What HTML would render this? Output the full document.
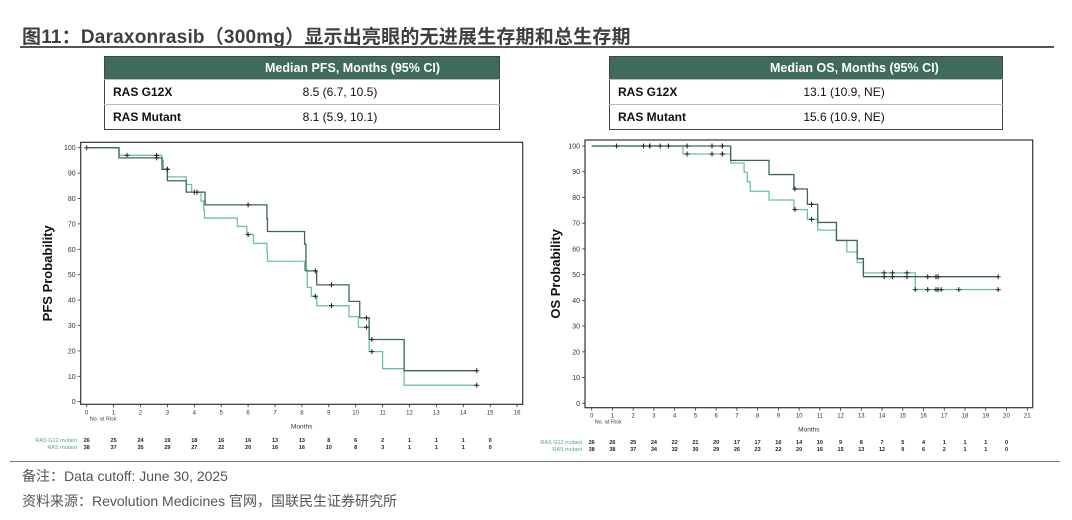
<!DOCTYPE html>
<html><head><meta charset="utf-8">
<style>
body{margin:0;background:#fff;width:1072px;height:520px;overflow:hidden;position:relative;font-family:"Liberation Sans","Noto Sans CJK SC",sans-serif}
.title{position:absolute;left:22px;top:22px;font-size:19px;font-weight:bold;color:#3f3f3f;letter-spacing:0.2px;white-space:nowrap}
.uline{position:absolute;left:20px;top:46px;width:1034px;height:2px;background:#555}
table.mt{position:absolute;border-collapse:collapse;border:1px solid #444;font-size:12px;color:#111}
table.mt th{background:#3f6b5a;color:#fff;font-weight:bold;height:22px;padding:0;font-size:12.5px}
table.mt td{height:24px;padding:0 0 0 8px;border-top:1px solid #bbb}
table.mt td.l{font-weight:bold;width:140px}
table.mt td.v{text-align:center;padding-right:80px}
.note{position:absolute;left:22px;font-size:14px;color:#555;white-space:nowrap}
.fline{position:absolute;left:10px;top:461px;width:1050px;height:1px;background:#777}
svg{position:absolute;left:0;top:0}
</style></head><body>
<div class="title">图11：Daraxonrasib（300mg）显示出亮眼的无进展生存期和总生存期</div>
<div class="uline"></div>
<table class="mt" style="left:104px;top:56px;width:396px">
<tr><th></th><th style="text-align:left;padding-left:12px">Median PFS, Months (95% CI)</th></tr>
<tr><td class="l">RAS G12X</td><td class="v">8.5 (6.7, 10.5)</td></tr>
<tr><td class="l">RAS Mutant</td><td class="v">8.1 (5.9, 10.1)</td></tr>
</table>
<table class="mt" style="left:609px;top:56px;width:394px">
<tr><th></th><th style="text-align:left;padding-left:12px">Median OS, Months (95% CI)</th></tr>
<tr><td class="l">RAS G12X</td><td class="v">13.1 (10.9, NE)</td></tr>
<tr><td class="l">RAS Mutant</td><td class="v">15.6 (10.9, NE)</td></tr>
</table>
<svg id="c" width="1072" height="520"></svg>
<div class="fline"></div>
<div class="note" style="top:466px">备注：Data cutoff: June 30, 2025</div>
<div class="note" style="top:491px">资料来源：Revolution Medicines 官网，国联民生证券研究所</div>
<script>
// PFS data
const pfsG12Times=[0,1.2,2.8,3.0,3.7,4.4,6.7,6.72,8.1,8.15,8.55,9.75,10.15,10.5,11.8,14.5];
const pfsG12Vals=[100,96,91.5,87,82.5,77.5,72,67,62,51.5,46,39.5,33,24.5,12.2,12.2];
const pfsG12CensT=[2.6,3.0,4.1,6.0,8.5,9.1,10.4,10.6,14.5];
const pfsG12CensV=[96,91.5,82.5,77.5,51.5,46,33,24.5,12.2];
const pfsMutTimes=[0,1.2,2.8,2.85,3.0,3.7,3.9,4.25,4.35,4.38,5.6,5.95,6.2,6.7,6.72,8.1,8.2,8.35,8.55,9.75,10.1,10.5,11.0,11.8,14.5];
const pfsMutVals=[100,97,95,91.5,88.5,85.5,82.5,79,75.5,72.3,69,65.8,62.3,59,55.3,51.8,45,41.5,37.8,33.5,29.3,19.7,13,6.5,6.5];
const pfsMutCensT=[0,1.5,2.6,3.0,4.0,6.0,8.5,9.1,10.4,10.6,14.5];
const pfsMutCensV=[100,97,97,91.5,82.5,65.8,41.5,37.8,29.3,19.7,6.5];
const pfsRiskG12=[26,25,24,19,18,16,16,13,13,8,6,2,1,1,1,0];
const pfsRiskMut=[38,37,35,29,27,22,20,16,16,10,8,3,1,1,1,0];
// OS data
const osG12Times=[0,6.7,8.55,9.75,10.4,10.9,11.8,12.8,13.1,19.6];
const osG12Vals=[100,94.4,88.9,83.3,77.3,70.3,63.3,56.2,49.2,49.2];
const osG12CensT=[1.2,2.5,2.8,2.8,3.3,3.7,4.6,5.8,6.3,6.3,9.8,10.6,14.1,14.5,15.2,16.2,16.6,16.7,19.6];
const osG12CensV=[100,100,100,100,100,100,100,100,100,100,83.3,77.3,49.2,49.2,49.2,49.2,49.2,49.2,49.2];
const osMutTimes=[0,4.4,6.7,7.35,7.5,7.65,8.55,9.75,10.4,10.9,11.8,12.3,12.8,13.1,15.6,19.6];
const osMutVals=[100,96.9,93.4,89.8,86.1,82.4,79,75.3,71.5,67.3,63.3,58.8,54.7,50.7,44.2,44.2];
const osMutCensT=[4.6,5.8,6.3,6.3,9.8,10.6,14.1,14.5,15.2,15.6,16.2,16.6,16.7,16.85,17.7,19.6];
const osMutCensV=[96.9,96.9,96.9,96.9,75.3,71.5,50.7,50.7,50.7,44.2,44.2,44.2,44.2,44.2,44.2,44.2];
const osRiskG12=[26,26,25,24,22,21,20,17,17,16,14,10,9,8,7,5,4,1,1,1,0];
const osRiskMut=[38,38,37,34,32,30,29,26,23,22,20,16,15,13,12,9,6,2,1,1,0];
const yTicks=[0,10,20,30,40,50,60,70,80,90,100];

const svg=document.getElementById('c');const NS='http://www.w3.org/2000/svg';
function mk(t,a,txt){const e=document.createElementNS(NS,t);for(const k in a)e.setAttribute(k,a[k]);if(txt!==undefined)e.textContent=txt;svg.appendChild(e);return e;}
const DARK='#3e6461',TEAL='#6cc2a3';
function chart(o){
  const X=m=>o.x0+m*o.xs, Y=p=>o.y0-p*o.ys;
  let f=mk('rect',{x:o.fx1,y:o.fy1,width:o.fx2-o.fx1,height:o.fy2-o.fy1,fill:'none',stroke:'#333','stroke-width':1.2});
  
  
  yTicks.forEach(v=>{
    mk('line',{x1:o.fx1-3,x2:o.fx1,y1:Y(v),y2:Y(v),stroke:'#333','stroke-width':0.8});
    let t=mk('text',{x:o.fx1-5,y:Y(v)+2.5,'font-size':7,'text-anchor':'end',fill:'#333'},v);
    
    
  });
  for(let m=0;m<=o.xmax;m++){
    mk('line',{x1:X(m),x2:X(m),y1:o.fy2,y2:o.fy2+3,stroke:'#333','stroke-width':0.8});
    let t=mk('text',{x:X(m),y:o.fy2+10,'font-size':6,'text-anchor':'middle',fill:'#333'},m);
    
    
  }
  let yt=mk('text',{x:0,y:0,'font-size':13,'font-weight':'bold','text-anchor':'middle',fill:'#111',transform:`translate(${o.ytx},${(o.fy1+o.fy2)/2}) rotate(-90)`},o.ytitle);
  
  
  let xt=mk('text',{x:(o.fx1+o.fx2)/2,y:o.fy2+24,'font-size':6.5,'text-anchor':'middle',fill:'#333'},'Months');
  
  
  let nr=mk('text',{x:X(0)+3,y:o.fy2+16,'font-size':5.5,fill:'#444'},'No. at Risk');
  
  
  [[o.mut,TEAL,'mutant'],[o.g12,DARK,'g12']].forEach(([s,col,nm])=>{
    let d='M'+X(s.t[0])+','+Y(s.v[0]);
    for(let i=1;i<s.t.length;i++){d+='H'+X(s.t[i])+'V'+Y(s.v[i]);}
    let p=mk('path',{d:d,fill:'none',stroke:col,'stroke-width':1.3});
    
    
    s.ct.forEach((c,i)=>{
      let g=mk('path',{d:`M${X(c)-2.5},${Y(s.cv[i])}h5M${X(c)},${Y(s.cv[i])-2.5}v5`,stroke:'#222','stroke-width':1});
      
      
    });
  });
  [[o.rg,'RAS G12 mutant',o.ry1],[o.rm,'RAS mutant',o.ry2]].forEach(([arr,lab,yy])=>{
    let l=mk('text',{x:o.rlx,y:yy,'font-size':5.5,'text-anchor':'end',fill:'#4fa98a'},lab);
    
    
    arr.forEach((n,i)=>{
      let t=mk('text',{x:X(i),y:yy,'font-size':5.5,'font-weight':'bold','text-anchor':'middle',fill:'#222'},n);
      
      
    });
  });
}
chart({id:'pfs',x0:86.7,xs:26.9,y0:401.7,ys:2.54,fx1:80.7,fx2:522.7,fy1:142.3,fy2:404.3,xmax:16,ytitle:'PFS Probability',ytx:52,
  g12:{t:pfsG12Times,v:pfsG12Vals,ct:pfsG12CensT,cv:pfsG12CensV},mut:{t:pfsMutTimes,v:pfsMutVals,ct:pfsMutCensT,cv:pfsMutCensV},
  rg:pfsRiskG12,rm:pfsRiskMut,ry1:442,ry2:449,rlx:77});
chart({id:'os',x0:591.7,xs:20.74,y0:403.3,ys:2.573,fx1:585,fx2:1032.7,fy1:140,fy2:407.7,xmax:21,ytitle:'OS Probability',ytx:560,
  g12:{t:osG12Times,v:osG12Vals,ct:osG12CensT,cv:osG12CensV},mut:{t:osMutTimes,v:osMutVals,ct:osMutCensT,cv:osMutCensV},
  rg:osRiskG12,rm:osRiskMut,ry1:444,ry2:451,rlx:582});
</script>
</body></html>
